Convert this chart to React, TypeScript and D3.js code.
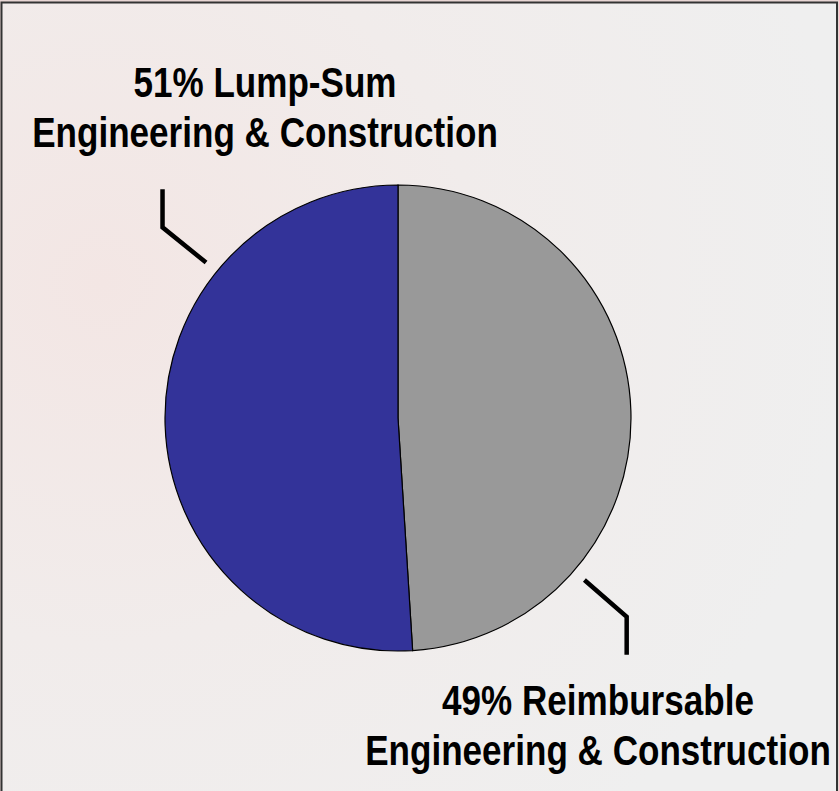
import React from 'react'
import * as d3 from 'd3'

// slices, clockwise from 12 o'clock
const categories = ['Reimbursable', 'Lump-Sum']
const shares = [49, 51]
const colors = ['#999999', '#333399']
const labelLines = [
  ['49% Reimbursable', 'Engineering & Construction'],
  ['51% Lump-Sum', 'Engineering & Construction']
]
// angle (degrees, clockwise from top) where each leader line leaves the pie
const leaderAngles = [131, 309]

const width = 839
const height = 791
const cx = 398
const cy = 418
const radius = 233
// no narrow font installed, so squeeze the bold sans horizontally
const squeeze = 0.835

const App = () => {
  const pie = d3
    .pie<number>()
    .sort(null)
    .value(d => d)
  const arcs = pie(shares)
  const arc = d3.arc<d3.PieArcDatum<number>>().innerRadius(0).outerRadius(radius)

  const polar = (deg: number, r: number): [number, number] => {
    const a = (deg * Math.PI) / 180
    return [cx + r * Math.sin(a), cy - r * Math.cos(a)]
  }

  const labelPos = [
    { x: 598, y: 715 },
    { x: 265, y: 97 }
  ]

  return (
    <svg
      width={width}
      height={height}
      viewBox={`0,0,${width},${height}`}
      style={{ position: 'absolute', left: 0, top: 0 }}
    >
      <defs>
        <radialGradient id="bg" cx="0.12" cy="0.35" r="0.9">
          <stop offset="0" stopColor="#f3e6e4" />
          <stop offset="0.5" stopColor="#f1eceb" />
          <stop offset="1" stopColor="#efefef" />
        </radialGradient>
      </defs>
      <rect x={0} y={0} width={width} height={height} fill="#e8d6d4" />
      <rect
        x={1.5}
        y={2.5}
        width={width - 3.5}
        height={height + 10}
        fill="url(#bg)"
        stroke="#333"
        strokeWidth={2}
      />
      <g>
        {arcs.map((a, i) => (
          <path
            key={categories[i]}
            d={arc(a) || ''}
            transform={`translate(${cx},${cy})`}
            fill={colors[i]}
            stroke="#000"
            strokeWidth={1.2}
          />
        ))}
      </g>
      <g fill="none" stroke="#000" strokeWidth={4.5}>
        {leaderAngles.map((deg, i) => {
          const p0 = polar(deg, radius + 14)
          const p1 = polar(deg, radius + 70)
          const dir = p1[1] < cy ? -1 : 1
          const p2: [number, number] = [p1[0], p1[1] + dir * 38]
          return <path key={i} d={d3.line()([p0, p1, p2]) || ''} />
        })}
      </g>
      <g
        fontFamily="'Liberation Sans Narrow', 'Arial Narrow', 'Liberation Sans', Arial, sans-serif"
        fontWeight="bold"
        fontSize={42}
        textAnchor="middle"
        fill="#000"
      >
        {labelLines.map((lines, i) => (
          <text
            key={i}
            transform={`translate(${labelPos[i].x},${labelPos[i].y}) scale(${squeeze},1)`}
          >
            {lines.map((t, j) => (
              <tspan key={j} x={0} dy={j === 0 ? 0 : 50}>
                {t}
              </tspan>
            ))}
          </text>
        ))}
      </g>
    </svg>
  )
}

export default App
